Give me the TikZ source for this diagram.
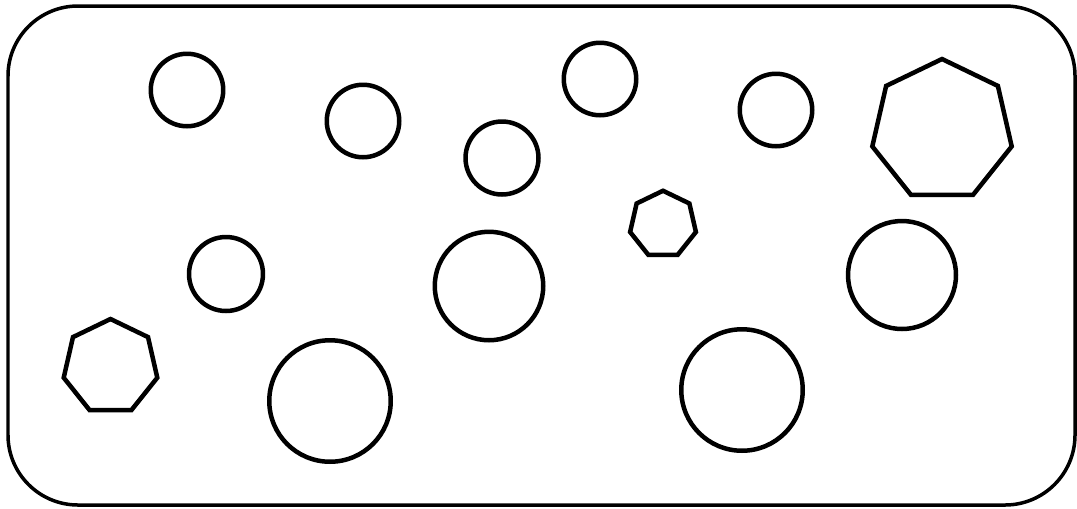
\documentclass[tikz,border=0pt]{standalone}
\usepackage{tikz}
\usetikzlibrary{shapes.geometric,positioning}

\begin{document}
\begin{tikzpicture}[x=0.02cm, y=-0.02cm,
    frame/.style={draw=black, line width=0.07cm, rounded corners=1.4cm},
    bubble/.style={circle, draw=black, line width=0.09cm, inner sep=0pt, outer sep=0pt},
    hepta/.style={regular polygon, regular polygon sides=7, draw=black, line width=0.09cm, inner sep=0pt, outer sep=0pt}]

    \useasboundingbox (0,0) rectangle (1077,508);
    \draw [frame] (8,6) rectangle (1075,505);

    % small circles
    \node [bubble, minimum size=1.45cm] (c1) at (187,90) {};
    \node [bubble, minimum size=1.45cm] (c2) at (363,121) {};
    \node [bubble, minimum size=1.46cm] (c3) at (502,158) {};
    \node [bubble, minimum size=1.45cm] (c4) at (600,79) {};
    \node [bubble, minimum size=1.45cm] (c5) at (776,110) {};
    \node [bubble, minimum size=1.48cm] (c6) at (226,274) {};
    % medium circles
    \node [bubble, minimum size=2.17cm] (c7) at (489,286) {};
    \node [bubble, minimum size=2.16cm] (c8) at (902,275) {};
    % large circles
    \node [bubble, minimum size=2.43cm] (c9) at (330,401) {};
    \node [bubble, minimum size=2.43cm] (c10) at (742,390) {};

    % heptagons
    \node [hepta, minimum size=2.86cm] (h1) at (942,130.5) {};
    \node [hepta, minimum size=1.35cm] (h2) at (663,224.5) {};
    \node [hepta, minimum size=1.92cm] (h3) at (110.5,367) {};
\end{tikzpicture}
\end{document}
